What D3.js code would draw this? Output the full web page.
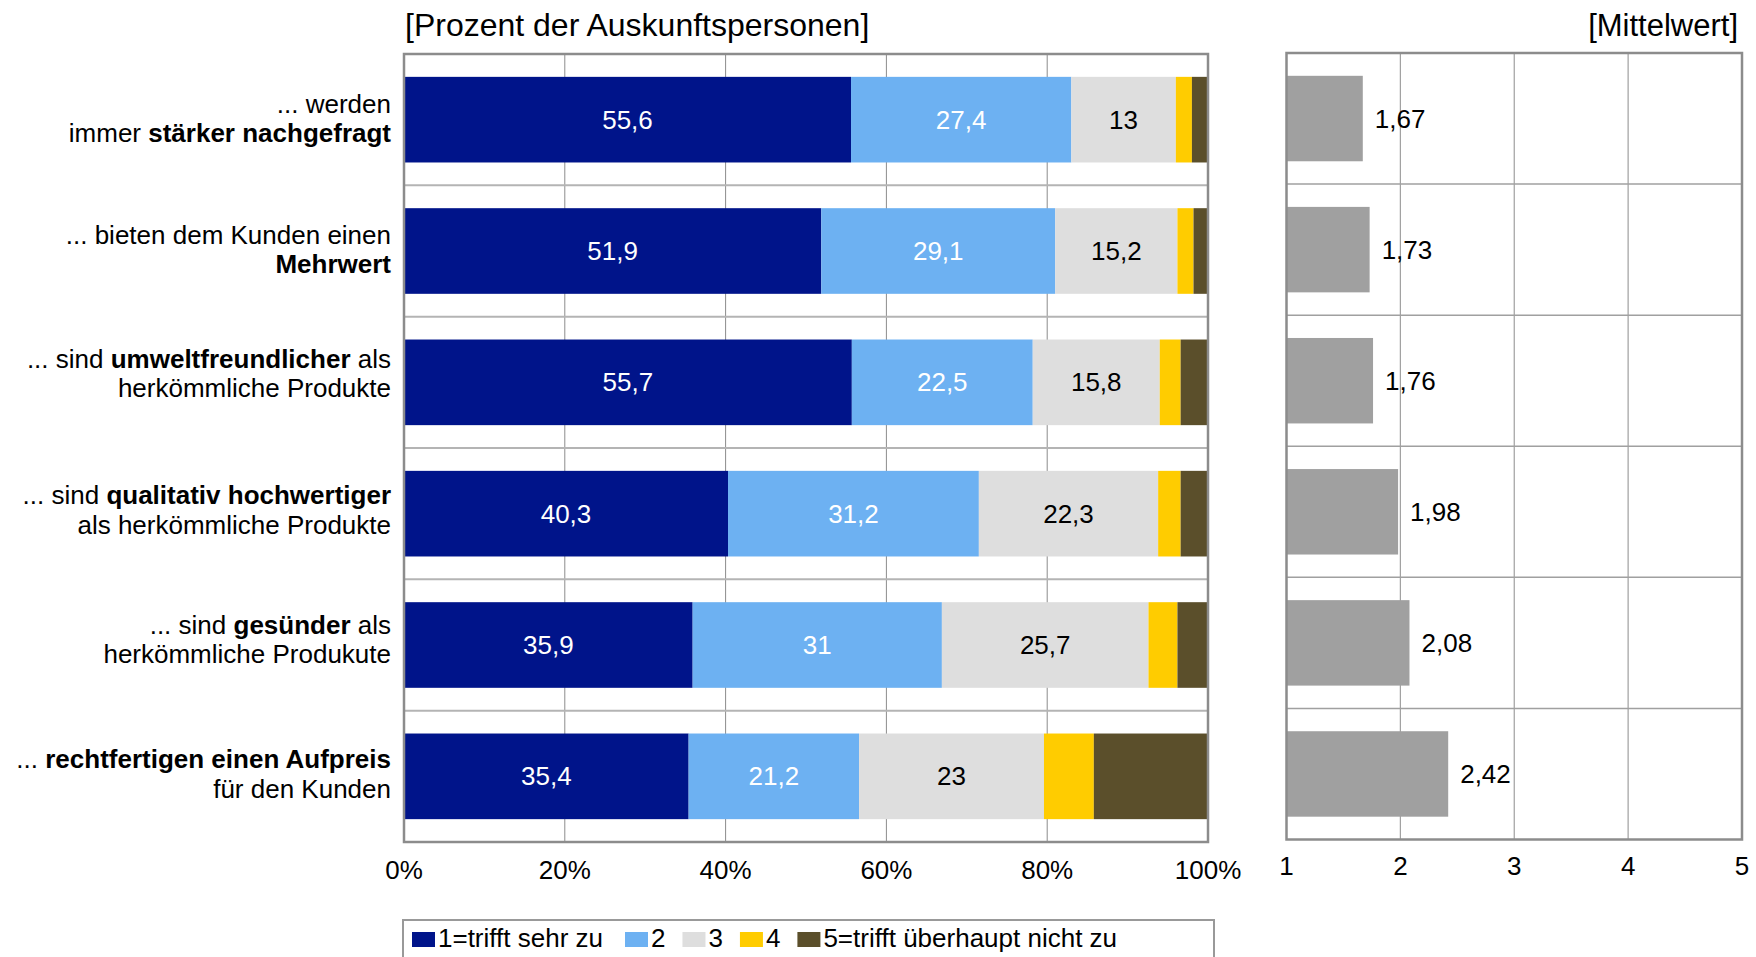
<!DOCTYPE html>
<html>
<head>
<meta charset="utf-8">
<script src="https://cdn.jsdelivr.net/npm/d3@7/dist/d3.min.js"></script>
<style>
  html, body { margin: 0; padding: 0; background: #fff; }
  svg { display: block; font-family: "Liberation Sans", Arial, Helvetica, sans-serif; }
</style>
</head>
<body>
<svg id="chart" width="1756" height="957"></svg>
<script>
// ---- Data ----
const categories = [
  ["... werden", "immer **stärker nachgefragt**"],
  ["... bieten dem Kunden einen", "**Mehrwert**"],
  ["... sind **umweltfreundlicher** als", "herkömmliche Produkte"],
  ["... sind **qualitativ hochwertiger**", "als herkömmliche Produkte"],
  ["... sind **gesünder** als", "herkömmliche Produkute"],
  ["... **rechtfertigen einen Aufpreis**", "für den Kunden"]
];
const seriesNames = ["1=trifft sehr zu", "2", "3", "4", "5=trifft überhaupt nicht zu"];
const s1 = [55.6, 51.9, 55.7, 40.3, 35.9, 35.4];
const s2 = [27.4, 29.1, 22.5, 31.2, 31, 21.2];
const s3 = [13, 15.2, 15.8, 22.3, 25.7, 23];
const s4 = [2.0, 2.0, 2.6, 2.8, 3.6, 6.2];
const s5 = [2.0, 1.8, 3.4, 3.4, 3.8, 14.2];
const means = [1.67, 1.73, 1.76, 1.98, 2.08, 2.42];
const pctTicks = [0, 20, 40, 60, 80, 100];
const meanTicks = [1, 2, 3, 4, 5];
const labelledSeries = [0, 1, 2];

// ---- Styles ----
const colors = ["#00148a", "#6db1f2", "#dedede", "#ffcc00", "#5b4f2b"];
const labelColors = ["#ffffff", "#ffffff", "#000000"];
const FONT = 26;

const svg = d3.select("#chart");

const rows = categories.map((c, i) => ({ idx: i, s0: s1[i], s1: s2[i], s2: s3[i], s3: s4[i], s4: s5[i] }));
const keys = ["s0", "s1", "s2", "s3", "s4"];
const stacked = d3.stack().keys(keys)(rows);

// ---- Left panel ----
const L = { x0: 404, x1: 1208, y0: 54, y1: 842 };
const x = d3.scaleLinear().domain([0, 100]).range([L.x0, L.x1]);
const y = d3.scaleBand().domain(d3.range(categories.length)).range([L.y0, L.y1]).padding(0);
const barOff = 0.174, barFrac = 0.652;

const gL = svg.append("g");
gL.append("g").selectAll("line").data(pctTicks.slice(1, -1)).join("line")
  .attr("x1", d => x(d)).attr("x2", d => x(d))
  .attr("y1", L.y0).attr("y2", L.y1)
  .attr("stroke", "#8c8c8c").attr("stroke-width", 1);
gL.append("g").selectAll("line").data(d3.range(1, categories.length)).join("line")
  .attr("x1", L.x0).attr("x2", L.x1)
  .attr("y1", d => y(d)).attr("y2", d => y(d))
  .attr("stroke", "#b4b4b4").attr("stroke-width", 2);

const layer = gL.append("g").selectAll("g").data(stacked).join("g")
  .attr("fill", (d, i) => colors[i]);
layer.selectAll("rect").data(d => d).join("rect")
  .attr("x", d => x(d[0]))
  .attr("width", d => x(d[1]) - x(d[0]))
  .attr("y", d => y(d.data.idx) + y.bandwidth() * barOff)
  .attr("height", y.bandwidth() * barFrac);

const fmt = v => String(v).replace(".", ",");
stacked.forEach((ser, si) => {
  if (!labelledSeries.includes(si)) return;
  gL.append("g").selectAll("text").data(ser).join("text")
    .attr("x", d => (x(d[0]) + x(d[1])) / 2)
    .attr("y", d => y(d.data.idx) + y.bandwidth() / 2 + 9)
    .attr("text-anchor", "middle")
    .attr("font-size", FONT)
    .attr("fill", labelColors[si])
    .text(d => fmt(d.data[keys[si]]));
});

gL.append("rect").attr("x", L.x0).attr("y", L.y0)
  .attr("width", L.x1 - L.x0).attr("height", L.y1 - L.y0)
  .attr("fill", "none").attr("stroke", "#8c8c8c").attr("stroke-width", 2.5);

gL.append("g").selectAll("text").data(pctTicks).join("text")
  .attr("x", d => x(d)).attr("y", 879)
  .attr("text-anchor", "middle").attr("font-size", FONT).attr("fill", "#000")
  .text(d => d + "%");

svg.append("text").attr("x", 405).attr("y", 36)
  .attr("font-size", 32).attr("fill", "#000")
  .text("[Prozent der Auskunftspersonen]");

const labelShift = [-7, -7.5, -14.5, -9.5, -11.5, -8];
const lineGap = 29.5;
categories.forEach((lines, i) => {
  const cy = y(i) + y.bandwidth() / 2;
  lines.forEach((line, li) => {
    const t = svg.append("text")
      .attr("x", 391).attr("y", cy + labelShift[i] + li * lineGap)
      .attr("text-anchor", "end").attr("font-size", FONT).attr("fill", "#000");
    line.split("**").forEach((part, pi) => {
      if (part === "") return;
      t.append("tspan").attr("font-weight", pi % 2 === 1 ? "bold" : "normal").text(part);
    });
  });
});

// ---- Right panel ----
const R = { x0: 1286.5, x1: 1742, y0: 53, y1: 839.5 };
const xm = d3.scaleLinear().domain([1, 5]).range([R.x0, R.x1]);
const ym = d3.scaleBand().domain(d3.range(categories.length)).range([R.y0, R.y1]).padding(0);
const gR = svg.append("g");
gR.append("g").selectAll("line").data(meanTicks.slice(1, -1)).join("line")
  .attr("x1", d => xm(d)).attr("x2", d => xm(d))
  .attr("y1", R.y0).attr("y2", R.y1)
  .attr("stroke", "#a0a0a0").attr("stroke-width", 1.2);
gR.append("g").selectAll("line").data(d3.range(1, categories.length)).join("line")
  .attr("x1", R.x0).attr("x2", R.x1)
  .attr("y1", d => ym(d)).attr("y2", d => ym(d))
  .attr("stroke", "#a0a0a0").attr("stroke-width", 1.5);
gR.append("g").selectAll("rect").data(means).join("rect")
  .attr("x", xm(1))
  .attr("width", d => xm(d) - xm(1))
  .attr("y", (d, i) => ym(i) + ym.bandwidth() * barOff)
  .attr("height", ym.bandwidth() * barFrac)
  .attr("fill", "#a0a0a0");
gR.append("g").selectAll("text").data(means).join("text")
  .attr("x", d => xm(d) + 12)
  .attr("y", (d, i) => ym(i) + ym.bandwidth() / 2 + 9)
  .attr("font-size", FONT).attr("fill", "#000")
  .text(d => fmt(d));
gR.append("rect").attr("x", R.x0).attr("y", R.y0)
  .attr("width", R.x1 - R.x0).attr("height", R.y1 - R.y0)
  .attr("fill", "none").attr("stroke", "#8c8c8c").attr("stroke-width", 2.5);
gR.append("g").selectAll("text").data(meanTicks).join("text")
  .attr("x", d => xm(d)).attr("y", 875)
  .attr("text-anchor", "middle").attr("font-size", FONT).attr("fill", "#000")
  .text(d => d);
svg.append("text").attr("x", 1738).attr("y", 36)
  .attr("text-anchor", "end").attr("font-size", 31).attr("fill", "#000")
  .text("[Mittelwert]");

// ---- Legend ----
const lg = svg.append("g");
lg.append("rect").attr("x", 403).attr("y", 920).attr("width", 811).attr("height", 60)
  .attr("fill", "#fff").attr("stroke", "#999").attr("stroke-width", 2);
let lx = 412;
seriesNames.forEach((name, i) => {
  lg.append("rect").attr("x", lx).attr("y", 932).attr("width", 23).attr("height", 15)
    .attr("fill", colors[i]);
  const t = lg.append("text").attr("x", lx + 26).attr("y", 947)
    .attr("font-size", FONT).attr("fill", "#000").text(name);
  lx = lx + 26 + t.node().getComputedTextLength() + (i === 0 ? 22 : 17);
});
</script>
</body>
</html>
